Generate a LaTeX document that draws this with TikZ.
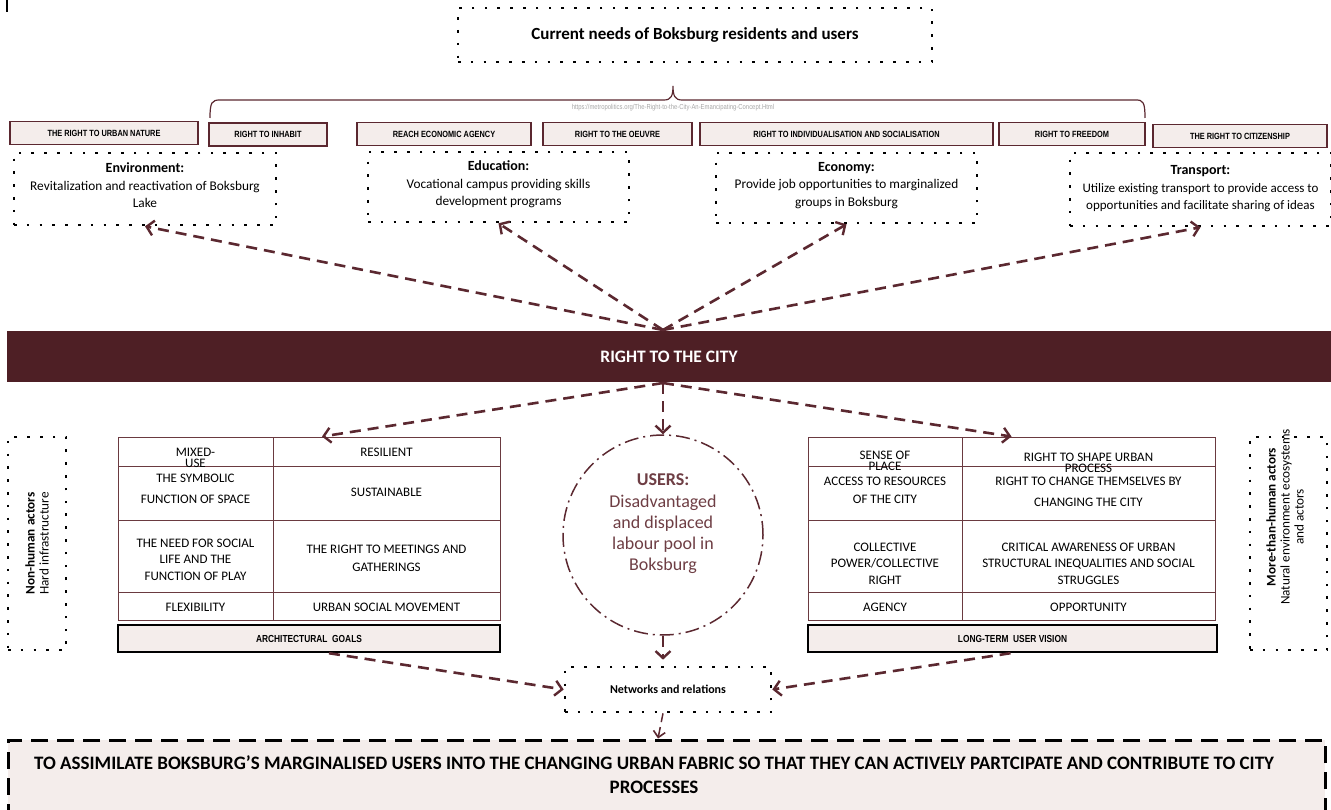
\documentclass[tikz,border=0pt]{standalone}
\usepackage{fontspec}
\setmainfont{Carlito}
\newfontfamily\narrowfont[FakeStretch=0.82]{Liberation Sans}
\usetikzlibrary{arrows.meta,calc}
\definecolor{maroon}{HTML}{5B2830}
\definecolor{barcol}{HTML}{4E1F25}
\definecolor{pinkfill}{HTML}{F4EDEB}
\definecolor{usertext}{HTML}{6E3E44}
\definecolor{tabline}{HTML}{6A3A40}
\begin{document}
\begin{tikzpicture}[x=1pt,y=-1pt,
  rightbox/.style={draw=maroon, line width=1.6pt, fill=pinkfill, minimum height=23pt, inner sep=0pt, font=\narrowfont\bfseries\fontsize{9}{10}\selectfont},
  dotbox/.style={draw=black, line width=2.6pt, dash pattern=on 2.6pt off 10.2pt, inner sep=0pt},
  needtext/.style={align=center, font=\fontsize{13.3}{17.5}\selectfont},
  darrow/.style={draw=maroon, line width=2.6pt, dash pattern=on 11pt off 7pt, -{Straight Barb[length=7pt,width=15pt,line width=2.4pt]}},
  tarrow/.style={draw=maroon, line width=1.5pt, dash pattern=on 9pt off 5pt, -{Straight Barb[length=6pt,width=12pt,line width=1.6pt]}},
  tabtext/.style={align=center, font=\fontsize{13}{16.5}\selectfont, inner sep=0pt},
  tabline/.style={draw=tabline, line width=0.9pt},
  tabbox/.style={draw=tabline, line width=0.9pt, inner sep=0pt},
  labelbox/.style={draw=black, line width=2.4pt, fill=pinkfill, inner sep=0pt, minimum height=27pt, font=\narrowfont\bfseries\fontsize{10.2}{11}\selectfont},
  sidetext/.style={align=center, font=\fontsize{13.2}{14}\selectfont, rotate=90},
]
\useasboundingbox (0,0) rectangle (1331,810);

% stray mark
\coordinate (m1) at (7,0);
\coordinate (m2) at (7,12);
\draw[line width=1.5pt] (m1) -- (m2);

% top title
\node[dotbox, minimum width=474pt, minimum height=54pt, font=\bfseries\fontsize{17}{19}\selectfont] (needs) at (695,35) {Current needs of Boksburg residents and users};

% brace
\draw[maroon, line width=1.2pt] (210,118) .. controls (210,102) and (212,100) .. (220,100) -- (664,100) .. controls (671,100) and (673,96) .. (673,86) .. controls (673,96) and (675,100) .. (682,100) -- (1136,100) .. controls (1143,100) and (1145,102) .. (1145,118);
\node[text=black!35, font=\narrowfont\fontsize{7.2}{8}\selectfont] (url) at (673,108) {https://metropolitics.org/The-Right-to-the-City-An-Emancipating-Concept.Html};

% right boxes
\node[rightbox, minimum width=188pt] (r1) at (104,133) {THE RIGHT TO URBAN NATURE};
\node[rightbox, minimum width=118pt] (r2) at (268,134.5) {RIGHT TO INHABIT};
\node[rightbox, minimum width=174pt] (r3) at (444,134) {REACH ECONOMIC AGENCY};
\node[rightbox, minimum width=149pt] (r4) at (617.5,134) {RIGHT TO THE OEUVRE};
\node[rightbox, minimum width=293pt] (r5) at (846.5,134) {RIGHT TO INDIVIDUALISATION AND SOCIALISATION};
\node[rightbox, minimum width=146pt] (r6) at (1072,134) {RIGHT TO FREEDOM};
\node[rightbox, minimum width=174pt] (r7) at (1240,136) {THE RIGHT TO CITIZENSHIP};

% need boxes
\node[dotbox, minimum width=262pt, minimum height=72pt] (env) at (145,189) {};
\node[needtext] (envt) at (145,185.5) {\textbf{\fontsize{14}{17.5}\selectfont Environment:}\\Revitalization and reactivation of Boksburg\\Lake};
\node[dotbox, minimum width=261pt, minimum height=70pt] (edu) at (498.5,187) {};
\node[needtext] (edut) at (498.5,184.5) {\textbf{\fontsize{14}{17.5}\selectfont Education:}\\Vocational campus providing skills\\development programs};
\node[dotbox, minimum width=261pt, minimum height=70pt] (eco) at (846.5,188) {};
\node[needtext] (ecot) at (846.5,185.5) {\textbf{\fontsize{14}{17.5}\selectfont Economy:}\\Provide job opportunities to marginalized\\groups in Boksburg};
\node[dotbox, minimum width=261pt, minimum height=73pt] (trans) at (1200.5,189.5) {};
\node[needtext, font=\fontsize{13}{17.5}\selectfont] (transt) at (1200.5,189) {\textbf{\fontsize{14}{17.5}\selectfont Transport:}\\Utilize existing transport to provide access to\\opportunities and facilitate sharing of ideas};

% bar
\node[fill=barcol, minimum width=1324pt, minimum height=51pt, inner sep=0pt, text=white, font=\bfseries\fontsize{17.5}{19}\selectfont] (bar) at (669,356.5) {RIGHT TO THE CITY};
\coordinate (hubT) at (663,330);
\coordinate (hubB) at (663,383);

\draw[darrow] (hubT) -- (env.south);
\draw[darrow] (hubT) -- (edu.south);
\draw[darrow] (hubT) -- (eco.south);
\draw[darrow] (hubT) -- (trans.south);

% side boxes
\node[dotbox, minimum width=58pt, minimum height=213pt] (nonh) at (37,543.5) {};
\node[sidetext] (nonht) at (37,543.5) {\textbf{Non-human actors}\\Hard infrastructure};
\node[dotbox, minimum width=77pt, minimum height=213pt] (moreh) at (1288.5,543.5) {};
\node[sidetext] (moreht) at (1285,517) {\textbf{More-than-human actors}\\Natural environment ecosystems\\and actors};

% left table
\node[tabbox, minimum width=382pt, minimum height=183pt] (lt) at (309,528.5) {};
\draw[tabline] (273,437) -- (273,620);
\draw[tabline] (118,466) -- (500,466);
\draw[tabline] (118,520) -- (500,520);
\draw[tabline] (118,592) -- (500,592);
\node[tabtext] (l1a) at (195.5,452) {MIXED-};
\node[tabtext] (l1b) at (195.5,463) {USE};
\node[tabtext] (l1c) at (386.5,452) {RESILIENT};
\node[tabtext, font=\fontsize{13}{21}\selectfont] (l2a) at (195.5,488.5) {THE SYMBOLIC\\FUNCTION OF SPACE};
\node[tabtext] (l2b) at (386.5,492) {SUSTAINABLE};
\node[tabtext] (l3a) at (195.5,559.5) {THE NEED FOR SOCIAL\\LIFE AND THE\\FUNCTION OF PLAY};
\node[tabtext, font=\fontsize{13}{18}\selectfont] (l3b) at (386.5,558) {THE RIGHT TO MEETINGS AND\\GATHERINGS};
\node[tabtext] (l4a) at (195.5,607) {FLEXIBILITY};
\node[tabtext] (l4b) at (386.5,607) {URBAN SOCIAL MOVEMENT};
\node[labelbox, minimum width=382pt] (arch) at (309,638.5) {ARCHITECTURAL\ \ GOALS};

% right table
\node[tabbox, minimum width=407pt, minimum height=183pt] (rt) at (1011.5,528.5) {};
\draw[tabline] (962,437) -- (962,620);
\draw[tabline] (808,466) -- (1215,466);
\draw[tabline] (808,520) -- (1215,520);
\draw[tabline] (808,592) -- (1215,592);
\node[tabtext] (q1a) at (885,455) {SENSE OF};
\node[tabtext] (q1b) at (885,466) {PLACE};
\node[tabtext] (q1c) at (1088.5,457) {RIGHT TO SHAPE URBAN};
\node[tabtext] (q1d) at (1088.5,468) {PROCESS};
\node[tabtext, font=\fontsize{13}{18}\selectfont] (q2a) at (885,490) {ACCESS TO RESOURCES\\OF THE CITY};
\node[tabtext, font=\fontsize{13}{21}\selectfont] (q2b) at (1088.5,491.5) {RIGHT TO CHANGE THEMSELVES BY\\CHANGING THE CITY};
\node[tabtext] (q3a) at (885,563.5) {COLLECTIVE\\POWER/COLLECTIVE\\RIGHT};
\node[tabtext] (q3b) at (1088.5,563.5) {CRITICAL AWARENESS OF URBAN\\STRUCTURAL INEQUALITIES AND SOCIAL\\STRUGGLES};
\node[tabtext] (q4a) at (885,607) {AGENCY};
\node[tabtext] (q4b) at (1088.5,607) {OPPORTUNITY};
\node[labelbox, minimum width=409pt] (long) at (1012.5,638.5) {LONG-TERM\ \ USER VISION};

% users circle
\node[circle, draw=maroon, line width=1.5pt, dash pattern=on 14pt off 5pt on 2pt off 5pt, minimum size=200pt, inner sep=0pt] (users) at (663,535) {};
\node[align=center, text=usertext, font=\fontsize{18}{21.2}\selectfont] (userst) at (663,524) {\textbf{USERS:}\\Disadvantaged\\and displaced\\labour pool in\\Boksburg};

% lower arrows
\draw[darrow] (hubB) -- ($(lt.north)+(13,0)$);
\draw[darrow] (hubB) -- (users.north);
\draw[darrow] (hubB) -- (rt.north);

% networks
\node[dotbox, minimum width=206pt, minimum height=45pt, font=\bfseries\fontsize{12}{13}\selectfont] (net) at (668,689.5) {Networks and relations};
\draw[darrow] (users.south) -- ($(net.north)+(-5,-6)$);
\draw[darrow] ($(arch.south)+(20,0)$) -- (net.west);
\draw[darrow] ($(long.south)+(-2,0)$) -- (net.east);

% goal
\node[draw=black, line width=3pt, dash pattern=on 17pt off 9pt, fill=pinkfill, minimum width=1317pt, minimum height=110pt, inner sep=0pt] (goal) at (666.5,795) {};
\node[align=center, font=\bfseries\fontsize{19}{24}\selectfont] (goalt) at (654,775) {TO ASSIMILATE BOKSBURG’S MARGINALISED USERS INTO THE CHANGING URBAN FABRIC SO THAT THEY CAN ACTIVELY PARTCIPATE AND CONTRIBUTE TO CITY\\PROCESSES};
\draw[tarrow] ($(net.south)+(-5,0)$) -- ($(goal.north)+(-8.5,0)$);
\end{tikzpicture}
\end{document}
